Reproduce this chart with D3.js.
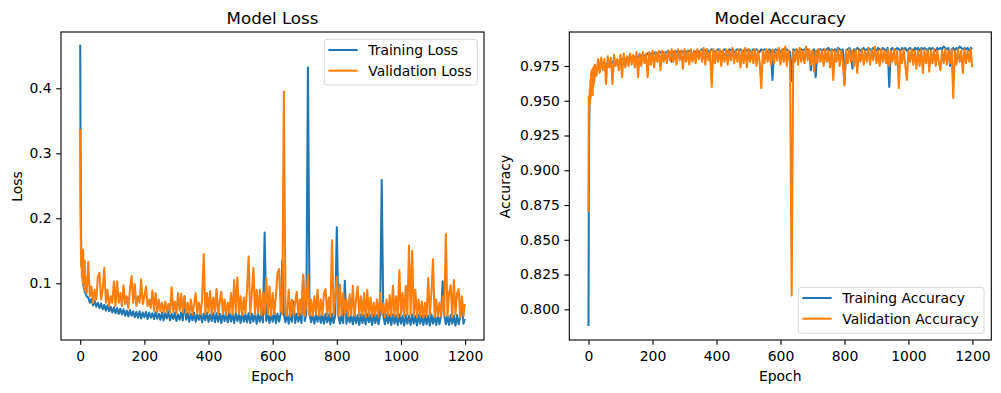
<!DOCTYPE html>
<html><head><meta charset="utf-8">
<script src="https://cdn.jsdelivr.net/npm/d3@7"></script>
<style>
body{margin:0;background:#fff}
svg{display:block}
text{font-family:"DejaVu Sans",sans-serif;fill:#000}
</style>
</head><body>
<svg id="c" width="1001" height="393"></svg>
<script>
// ---------- DATA ----------
const epochs = d3.range(0, 21).concat(d3.range(25, 1200, 5), [1199]);

const trainLoss = [
0.467,0.30,0.20,0.16,0.14,0.13,0.12,0.11,0.105,0.10,0.097,0.094,0.092,0.09,0.088,0.087,0.085,0.084,0.083,0.082,0.08,
0.078,0.07,0.076,0.066,0.073,0.064,0.07,0.062,0.069,0.06,0.067,0.058,0.066,0.057,0.064,0.055,0.063,0.054,0.062,0.053,
0.061,0.052,0.06,0.05,0.058,0.049,0.059,0.05,0.057,0.048,0.056,0.047,0.057,0.046,0.055,0.048,0.056,0.045,0.055,0.047,
0.054,0.045,0.056,0.046,0.053,0.044,0.055,0.043,0.054,0.046,0.056,0.043,0.053,0.045,0.055,0.042,0.052,0.044,0.055,0.043,
0.08,0.044,0.054,0.041,0.053,0.043,0.055,0.041,0.052,0.044,0.054,0.04,0.053,0.043,0.055,0.041,0.052,0.042,0.054,0.04,
0.054,0.041,0.053,0.039,0.055,0.042,0.052,0.04,0.056,0.041,0.053,0.039,0.054,0.042,0.053,0.039,0.055,0.041,0.052,0.04,
0.054,0.039,0.053,0.041,0.055,0.038,0.052,0.041,0.054,0.04,0.178,0.042,0.054,0.039,0.053,0.041,0.056,0.039,0.053,0.041,
0.053,0.135,0.052,0.04,0.054,0.038,0.053,0.041,0.072,0.039,0.053,0.041,0.054,0.039,0.113,0.042,0.053,0.432,0.052,0.04,
0.053,0.038,0.052,0.041,0.054,0.039,0.052,0.038,0.053,0.04,0.052,0.037,0.053,0.039,0.051,0.186,0.05,0.038,0.052,0.039,
0.104,0.038,0.052,0.04,0.051,0.037,0.053,0.039,0.051,0.036,0.052,0.039,0.051,0.037,0.053,0.04,0.051,0.036,0.052,0.039,
0.051,0.037,0.052,0.259,0.05,0.037,0.052,0.039,0.051,0.036,0.052,0.038,0.051,0.036,0.052,0.038,0.05,0.035,0.051,0.038,
0.05,0.036,0.052,0.038,0.05,0.035,0.051,0.038,0.05,0.036,0.051,0.037,0.05,0.035,0.052,0.038,0.05,0.036,0.051,0.037,
0.05,0.103,0.051,0.037,0.05,0.036,0.051,0.038,0.05,0.035,0.051,0.037,0.05,0.068,0.038,0.045
];

const valLoss = [
0.337,0.22,0.16,0.125,0.15,0.11,0.145,0.12,0.10,0.152,0.13,0.10,0.12,0.09,0.135,0.095,0.11,0.088,0.10,0.09,0.085,
0.133,0.08,0.095,0.07,0.09,0.075,0.11,0.116,0.075,0.09,0.124,0.07,0.09,0.065,0.08,0.07,0.103,0.065,0.103,0.07,
0.085,0.065,0.097,0.068,0.08,0.062,0.09,0.111,0.07,0.099,0.065,0.08,0.07,0.106,0.068,0.08,0.095,0.065,0.075,0.062,
0.089,0.058,0.085,0.056,0.075,0.057,0.07,0.055,0.072,0.056,0.068,0.055,0.094,0.056,0.072,0.054,0.085,0.058,0.084,0.055,
0.08,0.055,0.07,0.053,0.075,0.052,0.068,0.085,0.054,0.07,0.053,0.075,0.145,0.053,0.085,0.055,0.088,0.052,0.078,0.056,
0.091,0.052,0.072,0.087,0.053,0.075,0.051,0.07,0.054,0.085,0.052,0.105,0.055,0.109,0.053,0.08,0.051,0.078,0.054,0.09,
0.141,0.053,0.085,0.124,0.052,0.09,0.054,0.09,0.051,0.085,0.053,0.108,0.052,0.095,0.05,0.085,0.053,0.08,0.115,0.122,
0.06,0.052,0.395,0.054,0.05,0.09,0.049,0.075,0.051,0.07,0.087,0.05,0.075,0.052,0.113,0.05,0.07,0.113,0.051,0.075,
0.05,0.08,0.052,0.09,0.05,0.075,0.051,0.085,0.091,0.05,0.078,0.049,0.166,0.052,0.08,0.11,0.05,0.098,0.051,0.085,
0.052,0.075,0.049,0.083,0.051,0.096,0.05,0.075,0.095,0.049,0.08,0.051,0.085,0.048,0.09,0.05,0.078,0.049,0.07,0.051,
0.075,0.049,0.085,0.052,0.07,0.048,0.075,0.05,0.082,0.049,0.096,0.05,0.08,0.048,0.12,0.052,0.085,0.049,0.096,0.051,
0.158,0.052,0.15,0.05,0.09,0.048,0.075,0.05,0.072,0.047,0.07,0.049,0.108,0.051,0.085,0.137,0.048,0.075,0.05,0.07,
0.049,0.08,0.051,0.176,0.05,0.085,0.097,0.048,0.105,0.052,0.085,0.091,0.048,0.08,0.05,0.068
];

const trainAcc = [
0.788,0.87,0.925,0.945,0.95,0.955,0.958,0.96,0.962,0.963,0.964,0.965,0.966,0.967,0.967,0.968,0.969,0.969,0.97,0.97,0.971,
0.972,0.974,0.973,0.975,0.974,0.976,0.975,0.977,0.976,0.977,0.978,0.977,0.978,0.979,0.978,0.979,0.98,0.979,0.98,0.98,
0.981,0.98,0.981,0.982,0.981,0.982,0.981,0.983,0.982,0.983,0.982,0.983,0.984,0.983,0.984,0.983,0.984,0.985,0.984,0.984,
0.985,0.984,0.985,0.984,0.985,0.986,0.984,0.978,0.985,0.986,0.985,0.986,0.985,0.986,0.985,0.986,0.985,0.986,0.986,0.985,
0.98,0.986,0.985,0.986,0.985,0.986,0.987,0.985,0.986,0.987,0.985,0.986,0.987,0.986,0.985,0.986,0.987,0.986,0.985,0.986,
0.987,0.986,0.985,0.987,0.986,0.987,0.985,0.986,0.987,0.986,0.987,0.985,0.986,0.987,0.986,0.987,0.986,0.985,0.987,0.986,
0.987,0.986,0.985,0.987,0.986,0.987,0.986,0.985,0.987,0.986,0.965,0.986,0.987,0.986,0.987,0.985,0.986,0.987,0.986,0.987,
0.986,0.985,0.964,0.987,0.986,0.987,0.985,0.986,0.987,0.986,0.987,0.986,0.987,0.986,0.972,0.986,0.987,0.967,0.986,0.987,
0.987,0.986,0.987,0.986,0.987,0.988,0.986,0.987,0.986,0.987,0.986,0.988,0.987,0.986,0.987,0.962,0.986,0.987,0.988,0.986,
0.973,0.987,0.986,0.988,0.987,0.986,0.987,0.988,0.986,0.987,0.988,0.987,0.986,0.988,0.987,0.986,0.988,0.987,0.986,0.988,
0.987,0.986,0.988,0.96,0.987,0.988,0.986,0.987,0.988,0.987,0.986,0.988,0.987,0.988,0.986,0.987,0.988,0.987,0.986,0.988,
0.987,0.988,0.986,0.988,0.987,0.988,0.987,0.986,0.988,0.987,0.988,0.987,0.986,0.988,0.987,0.988,0.987,0.989,0.988,0.987,
0.988,0.975,0.987,0.988,0.986,0.988,0.987,0.989,0.988,0.987,0.988,0.987,0.988,0.986,0.988,0.987
];

const valAcc = [
0.870,0.953,0.95,0.946,0.958,0.948,0.965,0.952,0.97,0.955,0.972,0.958,0.968,0.954,0.973,0.96,0.974,0.962,0.975,0.965,0.976,
0.968,0.98,0.97,0.981,0.972,0.98,0.962,0.982,0.974,0.981,0.962,0.983,0.975,0.98,0.972,0.983,0.967,0.984,0.974,0.982,
0.975,0.984,0.976,0.983,0.974,0.985,0.967,0.984,0.975,0.985,0.977,0.984,0.967,0.985,0.976,0.986,0.974,0.985,0.978,0.986,
0.972,0.986,0.978,0.985,0.977,0.986,0.979,0.987,0.978,0.986,0.976,0.987,0.979,0.986,0.973,0.987,0.978,0.986,0.976,0.987,
0.978,0.986,0.977,0.987,0.98,0.986,0.978,0.988,0.976,0.987,0.979,0.986,0.96,0.987,0.977,0.986,0.978,0.987,0.975,0.986,
0.978,0.987,0.976,0.986,0.979,0.988,0.977,0.986,0.978,0.987,0.974,0.986,0.977,0.988,0.974,0.987,0.978,0.986,0.977,0.987,
0.975,0.986,0.978,0.959,0.986,0.977,0.987,0.978,0.986,0.976,0.987,0.977,0.986,0.979,0.988,0.976,0.987,0.978,0.989,0.975,
0.986,0.977,0.81,0.986,0.978,0.987,0.976,0.988,0.978,0.986,0.977,0.989,0.979,0.987,0.976,0.986,0.971,0.986,0.977,0.987,
0.978,0.986,0.975,0.987,0.978,0.986,0.974,0.987,0.965,0.986,0.978,0.987,0.975,0.986,0.978,0.961,0.986,0.977,0.987,0.978,
0.986,0.975,0.987,0.97,0.986,0.978,0.987,0.976,0.986,0.978,0.988,0.976,0.987,0.979,0.989,0.977,0.986,0.975,0.987,0.978,
0.986,0.977,0.987,0.975,0.986,0.978,0.987,0.976,0.986,0.959,0.986,0.977,0.987,0.976,0.965,0.986,0.978,0.987,0.976,0.986,
0.973,0.986,0.975,0.987,0.97,0.986,0.977,0.987,0.971,0.986,0.977,0.987,0.975,0.986,0.978,0.972,0.986,0.977,0.987,0.976,
0.986,0.977,0.987,0.952,0.986,0.976,0.987,0.978,0.986,0.97,0.987,0.977,0.986,0.978,0.987,0.974
];

const xTicks = [0, 200, 400, 600, 800, 1000, 1200];
const lossTicks = [0.1, 0.2, 0.3, 0.4];
const accTicks = [0.800, 0.825, 0.850, 0.875, 0.900, 0.925, 0.950, 0.975];

// ---------- DRAWING ----------
const C1 = "#1f77b4", C2 = "#ff7f0e";
const svg = d3.select("#c");
svg.append("rect").attr("width", 1001).attr("height", 393).attr("fill", "#fff");

function panel(o) {
  const g = svg.append("g");
  const x = d3.scaleLinear().domain([-59.95, 1258.95]).range([o.left, o.right]);
  const y = d3.scaleLinear().domain(o.yDomain).range([o.bottom, o.top]);
  const clipId = "clip" + o.id;
  svg.append("clipPath").attr("id", clipId).append("rect")
    .attr("x", o.left).attr("y", o.top).attr("width", o.right - o.left).attr("height", o.bottom - o.top);

  const line = d3.line().x(d => x(d[0])).y(d => y(d[1]));
  o.series.forEach(s => {
    const pts = epochs.map((e, i) => [e, s.values[i]]).filter(d => d[1] != null);
    g.append("path").attr("d", line(pts)).attr("fill", "none")
      .attr("stroke", s.color).attr("stroke-width", 2.08)
      .attr("stroke-linejoin", "round").attr("clip-path", `url(#${clipId})`);
  });

  // frame
  g.append("rect").attr("x", o.left).attr("y", o.top)
    .attr("width", o.right - o.left).attr("height", o.bottom - o.top)
    .attr("fill", "none").attr("stroke", "#000").attr("stroke-width", 1.1);

  // axes
  const xa = g.append("g").attr("transform", `translate(0,${o.bottom})`)
    .call(d3.axisBottom(x).tickValues(xTicks).tickFormat(d3.format("d")).tickSize(4.86).tickPadding(6.2));
  const ya = g.append("g").attr("transform", `translate(${o.left},0)`)
    .call(d3.axisLeft(y).tickValues(o.yTicks).tickFormat(o.yFormat).tickSize(4.86).tickPadding(4.6));
  [xa, ya].forEach(a => {
    a.select(".domain").remove();
    a.selectAll("line").attr("stroke", "#000").attr("stroke-width", 1.1);
    a.selectAll("text").attr("font-family", "DejaVu Sans, sans-serif").attr("font-size", "13.9px").attr("fill", "#000");
  });

  const cx = (o.left + o.right) / 2;
  g.append("text").attr("x", cx).attr("y", 23.5).attr("text-anchor", "middle")
    .attr("font-size", "16.67px").text(o.title);
  g.append("text").attr("x", cx).attr("y", 380.8).attr("text-anchor", "middle")
    .attr("font-size", "13.9px").text("Epoch");
  g.append("text").attr("transform", `translate(${o.ylabelX},186.5) rotate(-90)`)
    .attr("text-anchor", "middle").attr("font-size", "13.9px").text(o.ylabel);

  // legend
  const L = o.legend;
  g.append("rect").attr("x", L.x).attr("y", L.y).attr("width", L.w).attr("height", L.h)
    .attr("rx", 2.8).attr("fill", "#fff").attr("fill-opacity", 0.8)
    .attr("stroke", "#d6d6d6").attr("stroke-width", 1);
  o.series.forEach((s, i) => {
    const ly = L.y + 10.7 + i * 20.7;
    g.append("line").attr("x1", L.x + 4).attr("x2", L.x + 33.4).attr("y1", ly).attr("y2", ly)
      .attr("stroke", s.color).attr("stroke-width", 2.08);
    g.append("text").attr("x", L.x + 44).attr("y", ly).attr("dy", "0.35em")
      .attr("font-size", "13.9px").text(s.name);
  });
}

panel({
  id: "L", left: 61, right: 484, top: 32, bottom: 340,
  yDomain: [0.01277, 0.48662], yTicks: lossTicks, yFormat: d3.format(".1f"),
  title: "Model Loss", ylabel: "Loss", ylabelX: 21.6,
  series: [{name: "Training Loss", values: trainLoss, color: C1},
           {name: "Validation Loss", values: valLoss, color: C2}],
  legend: {x: 324.3, y: 39.3, w: 153, h: 45.7}
});

panel({
  id: "A", left: 569.3, right: 991.3, top: 32, bottom: 340,
  yDomain: [0.77792, 0.99945], yTicks: accTicks, yFormat: d3.format(".3f"),
  title: "Model Accuracy", ylabel: "Accuracy", ylabelX: 510.4,
  series: [{name: "Training Accuracy", values: trainAcc, color: C1},
           {name: "Validation Accuracy", values: valAcc, color: C2}],
  legend: {x: 798.3, y: 287.3, w: 185.7, h: 46}
});
</script>
</body></html>
